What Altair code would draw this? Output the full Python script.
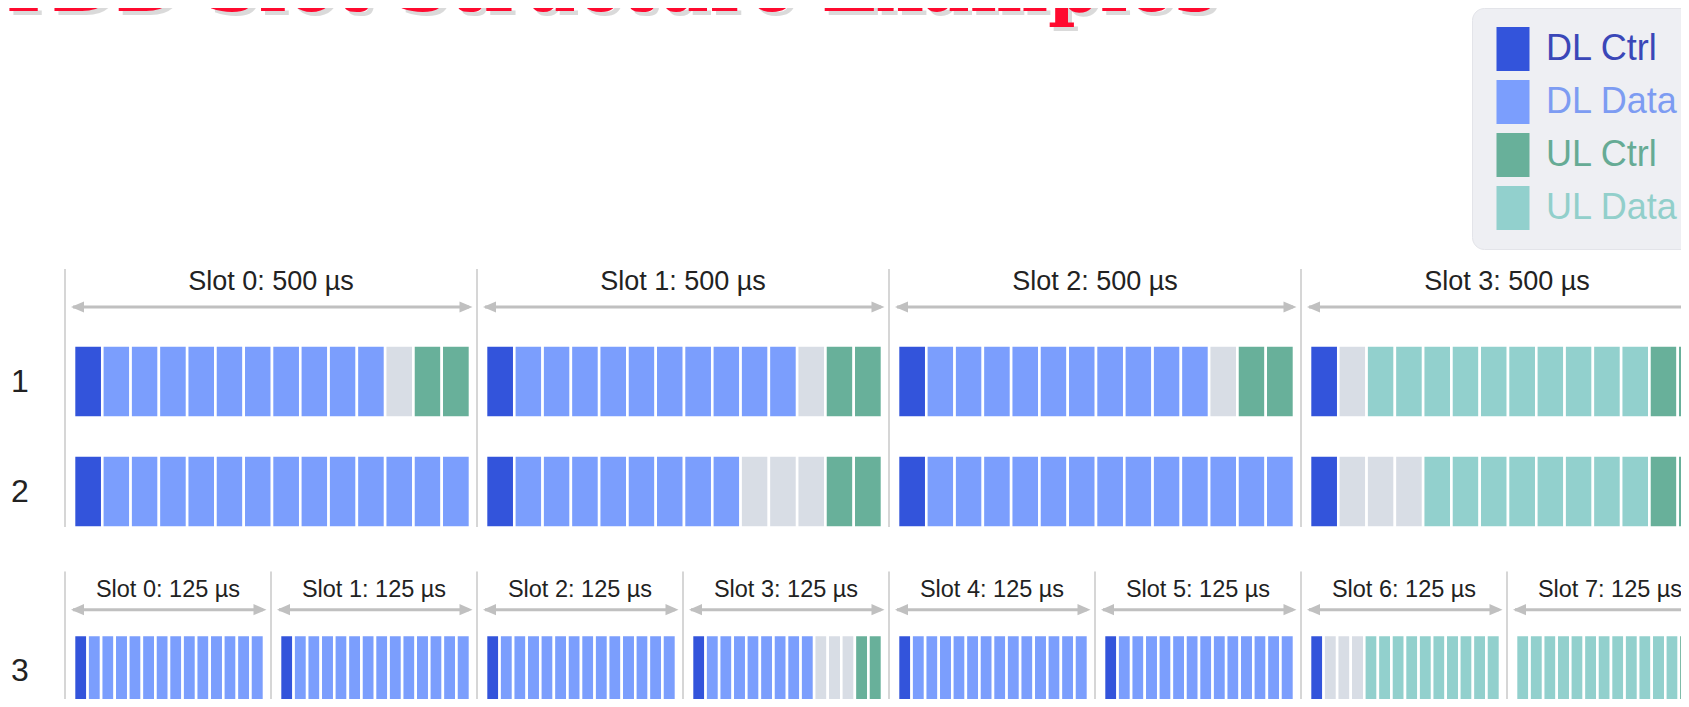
import altair as alt
import pandas as pd

# ---------------- data ----------------
TITLE = "TDD Slot Structure Examples"
ROW_NAMES = ["1", "2", "3"]
CATEGORY_CODES = ["C", "D", "K", "U", "F"]
CATEGORIES = ["DL Ctrl", "DL Data", "UL Ctrl", "UL Data", "Flexible"]
COLORS = ["#3354db", "#7b9efd", "#68b09a", "#92d0cd", "#d8dde5"]
LEGEND_LABEL_COLORS = ["#3a47b8", "#7d9cf2", "#66ab95", "#92cfcb"]

SLOT_US_A = 500   # rows 1-2
SLOT_US_B = 125   # row 3
# C = DL Ctrl, D = DL Data, K = UL Ctrl, U = UL Data, F = flexible / guard
ROW1_SLOTS = ["CDDDDDDDDDDFKK", "CDDDDDDDDDDFKK", "CDDDDDDDDDDFKK", "CFUUUUUUUUUUKK"]
ROW2_SLOTS = ["CDDDDDDDDDDDDD", "CDDDDDDDDFFFKK", "CDDDDDDDDDDDDD", "CFFFUUUUUUUUKK"]
ROW3_SLOTS = ["CDDDDDDDDDDDDD", "CDDDDDDDDDDDDD", "CDDDDDDDDDDDDD", "CDDDDDDDDFFFKK",
              "CDDDDDDDDDDDDD", "CDDDDDDDDDDDDD", "CFFFUUUUUUUUUU", "UUUUUUUUUUUUKK"]

# ---------------- layout ----------------
W, H = 1673, 691
ORIGIN = 57                 # chart x of the first slot boundary
PX_A = 412 / SLOT_US_A      # px per µs, rows 1-2
PX_B = 206 / SLOT_US_B      # px per µs, row 3
PAD_L, PAD_R = 9, 7
LANE_PX = 110
LANE1_Y = 373.5
LANE = {"1": 1.0, "2": 2.0, "3": 3.631}
HALF = 36 / LANE_PX

YS = alt.Scale(domain=[1 - LANE1_Y / LANE_PX, 1 + (H - LANE1_Y) / LANE_PX],
               reverse=True, nice=False, zero=False)


def xscale(ppu):
    return alt.Scale(domain=[-ORIGIN / ppu, (W - ORIGIN) / ppu], nice=False, zero=False)


code_to_cat = dict(zip(CATEGORY_CODES, CATEGORIES))

legend = alt.Legend(
    values=CATEGORIES[:4], orient="none", legendX=1464, legendY=0, title=None,
    symbolType="M-0.75,-1H0.75V1H-0.75Z", symbolSize=1936, symbolStrokeWidth=0,
    labelFontSize=36, labelFont="Liberation Sans", labelLimit=400,
    labelColor=alt.ExprRef(
        " : ".join(f"datum.label === '{c}' ? '{col}'" for c, col in zip(CATEGORIES[:3], LEGEND_LABEL_COLORS[:3]))
        + f" : '{LEGEND_LABEL_COLORS[3]}'"),
    fillColor="#eeeff3", strokeColor="#e3e4e9", cornerRadius=12,
    padding=19, rowPadding=9, labelOffset=11, symbolOpacity=1,
)
color = alt.Color("cat:N", scale=alt.Scale(domain=CATEGORIES, range=COLORS), legend=legend)


def group_layers(rows, slot_us, ppu, nslots, label_size, top_off, lab_off, arr_off, bottom_lane):
    xs = xscale(ppu)
    pad_l, pad_r = PAD_L / ppu, PAD_R / ppu
    sym = (slot_us - pad_l - pad_r) / 14
    recs = []
    for rname, slots in rows:
        for s, codes in enumerate(slots):
            for i, c in enumerate(codes):
                x0 = s * slot_us + pad_l + i * sym
                recs.append(dict(row=rname, cat=code_to_cat[c], x=x0, x2=x0 + sym,
                                 y=LANE[rname] - HALF, y2=LANE[rname] + HALF))
    bars = alt.Chart(pd.DataFrame(recs)).mark_rect(stroke="white", strokeWidth=2.6).encode(
        x=alt.X("x:Q", scale=xs, axis=None), x2="x2:Q",
        y=alt.Y("y:Q", scale=YS, axis=None), y2="y2:Q",
        color=color,
    )
    first_lane = LANE[rows[0][0]]
    hdr = []
    for s in range(nslots):
        hdr.append(dict(
            label=f"Slot {s}: {slot_us} µs",
            xc=s * slot_us + slot_us / 2,
            xb=s * slot_us,
            a0=s * slot_us + 8 / ppu, a1=(s + 1) * slot_us - 8 / ppu,
            h0=s * slot_us + 12.5 / ppu, h1=(s + 1) * slot_us - 11 / ppu,
            ly=first_lane - lab_off, ay=first_lane - arr_off,
            dy0=first_lane - top_off, dy1=bottom_lane,
        ))
    hdf = pd.DataFrame(hdr)
    base = alt.Chart(hdf)
    dividers = base.mark_rule(color="#c8c8c8", strokeWidth=1.5).encode(
        x=alt.X("xb:Q", scale=xs, axis=None),
        y=alt.Y("dy0:Q", scale=YS, axis=None), y2="dy1:Q")
    shaft = base.mark_rule(color="#c0c0c0", strokeWidth=3).encode(
        x=alt.X("a0:Q", scale=xs, axis=None), x2="a1:Q",
        y=alt.Y("ay:Q", scale=YS, axis=None))
    head_l = base.mark_point(shape="M-1,0L1,-0.85L1,0.85Z", filled=True, size=169,
                             color="#c0c0c0", opacity=1).encode(
        x=alt.X("h0:Q", scale=xs, axis=None), y=alt.Y("ay:Q", scale=YS, axis=None))
    head_r = base.mark_point(shape="M1,0L-1,-0.85L-1,0.85Z", filled=True, size=169,
                             color="#c0c0c0", opacity=1).encode(
        x=alt.X("h1:Q", scale=xs, axis=None), y=alt.Y("ay:Q", scale=YS, axis=None))
    labels = base.mark_text(fontSize=label_size, font="Liberation Sans", color="#222222",
                            baseline="middle", align="center").encode(
        x=alt.X("xc:Q", scale=xs, axis=None), y=alt.Y("ly:Q", scale=YS, axis=None),
        text="label:N")
    return [dividers, shaft, head_l, head_r, labels, bars]


layers_a = group_layers([("1", ROW1_SLOTS), ("2", ROW2_SLOTS)], SLOT_US_A, PX_A, 5,
                        27, 1.0227, 0.9045, 0.677, 2.323)
layers_b = group_layers([("3", ROW3_SLOTS)], SLOT_US_B, PX_B, 9,
                        23.5, 0.903, 0.736, 0.557, 4.2)

row_df = pd.DataFrame({"row": ROW_NAMES, "lane": [LANE[r] for r in ROW_NAMES]})
row_labels = alt.Chart(row_df).mark_text(fontSize=32, font="Liberation Sans", color="#222222",
                                         baseline="middle", align="center").encode(
    x=alt.value(12), y=alt.Y("lane:Q", scale=YS, axis=None), text="row:N")

title_df = pd.DataFrame({"t": [TITLE]})
title_shadow = alt.Chart(title_df).mark_text(
    font="DejaVu Serif", fontWeight="bold", fontSize=74, color="#888888", opacity=0.3,
    align="left", baseline="alphabetic", dx=4, dy=4).encode(
    x=alt.value(-12), y=alt.value(3), text="t:N")
title = alt.Chart(title_df).mark_text(
    font="DejaVu Serif", fontWeight="bold", fontSize=74, color="#ff0a2f",
    align="left", baseline="alphabetic").encode(
    x=alt.value(-12), y=alt.value(3), text="t:N")

chart = alt.layer(*layers_a, *layers_b, row_labels, title_shadow, title).resolve_scale(
    x="independent"
).properties(
    width=W, height=H, padding=0, autosize=alt.AutoSizeParams(type="none")
).configure(font="Liberation Sans").configure_view(stroke=None)

chart.save("out.html", embed_options={"renderer": "svg", "actions": False})
